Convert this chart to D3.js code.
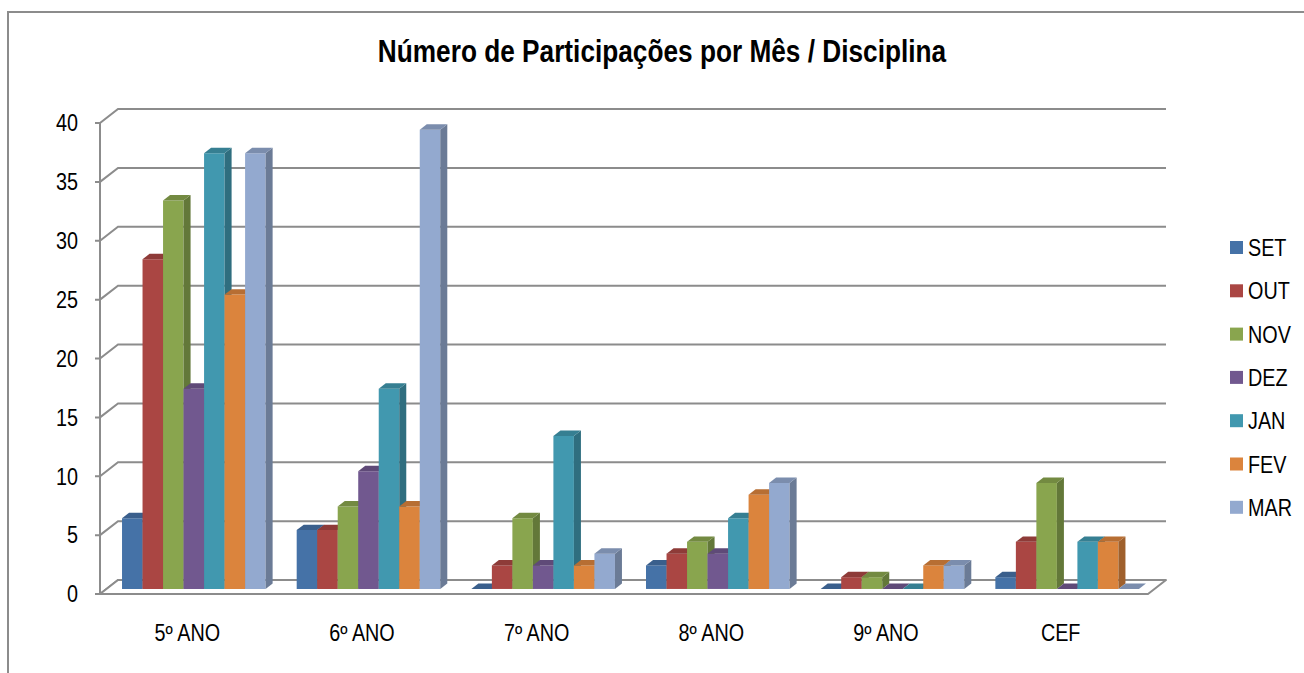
<!DOCTYPE html>
<html>
<head>
<meta charset="utf-8">
<script src="https://cdn.jsdelivr.net/npm/d3@7"></script>
<style>
  body { margin: 0; background: #fff; }
  svg text { font-family: 'Liberation Sans', Arial, sans-serif; fill: #000; }
</style>
</head>
<body>
<div id="chart"></div>
<script>
// categorias (eixo x) e meses (series)
const categories = ['5º ANO', '6º ANO', '7º ANO', '8º ANO', '9º ANO', 'CEF']
const months = ['SET', 'OUT', 'NOV', 'DEZ', 'JAN', 'FEV', 'MAR']

const SET = [6, 5, 0, 2, 0, 1]
const OUT = [28, 5, 2, 3, 1, 4]
const NOV = [33, 7, 6, 4, 1, 9]
const DEZ = [17, 10, 2, 3, 0, 0]
const JAN = [37, 17, 13, 6, 0, 4]
const FEV = [25, 7, 2, 8, 2, 4]
const MAR = [37, 39, 3, 9, 2, 0]

const yTicks = [0, 5, 10, 15, 20, 25, 30, 35, 40]
const colors = ['#4572a7', '#aa4643', '#89a54e', '#71588f', '#4198af', '#db843d', '#93a9cf']

const title = 'Número de Participações por Mês / Disciplina'

const series = [SET, OUT, NOV, DEZ, JAN, FEV, MAR]

const width = 1304
const height = 673
const lineColor = '#8c8c8c'
// sem Arial Narrow: Liberation Sans comprimida na horizontal
const narrow = 0.86

// plano frontal e profundidade da parede 3d
const plot = { left: 100, right: 1148, top: 123, bottom: 594 }
const depth = { dx: 18, dy: -14 }
const barDepth = [0.36, 0.75]

const svg = d3.select('#chart')
  .append('svg')
    .attr('width', width)
    .attr('height', height)

const label = (sel, px, py) => sel.attr('transform', `translate(${px},${py}) scale(${narrow},1)`)

svg.append('rect')
  .attr('x', 8)
  .attr('y', 12)
  .attr('width', width + 20)
  .attr('height', height + 20)
  .attr('fill', '#fff')
  .attr('stroke', lineColor)
  .attr('stroke-width', 2)

svg.append('text')
  .call(label, 662, 62)
  .attr('text-anchor', 'middle')
  .style('font-size', '30.5px')
  .style('font-weight', 'bold')
  .text(title)

const y = d3.scaleLinear()
  .domain([0, 40])
  .range([plot.bottom, plot.top])

const x = d3.scaleBand()
  .domain(categories)
  .range([plot.left, plot.right])
  .paddingInner(0.178)
  .paddingOuter(0.089)

const xInner = d3.scaleBand()
  .domain(months)
  .range([0, x.bandwidth()])

const shift = (px, py, f) => [px + f * depth.dx, py + f * depth.dy]
const poly = pts => 'M' + pts.map(p => p.join(',')).join('L') + 'Z'

// parede de fundo e grade
const grid = svg.append('g')
  .attr('fill', 'none')
  .attr('stroke', lineColor)
  .attr('stroke-width', 2)

grid.selectAll('path')
  .data(yTicks)
  .join('path')
    .attr('d', d => {
      const a = shift(plot.left, y(d), 1)
      return `M${plot.left - 5},${y(d)}L${plot.left},${y(d)}L${a[0]},${a[1]}L${plot.right + depth.dx},${a[1]}`
    })

grid.append('line')
  .attr('x1', plot.left)
  .attr('x2', plot.left)
  .attr('y1', y(40))
  .attr('y2', y(0))

// piso
svg.append('path')
  .attr('d', poly([
    [plot.left, y(0)],
    [plot.right, y(0)],
    shift(plot.right, y(0), 1),
    shift(plot.left, y(0), 1)
  ]))
  .attr('fill', '#fff')
  .attr('stroke', lineColor)
  .attr('stroke-width', 2)
  .attr('stroke-linejoin', 'round')

svg.append('line')
  .attr('x1', plot.left - 5)
  .attr('x2', plot.left)
  .attr('y1', y(0))
  .attr('y2', y(0))
  .attr('stroke', lineColor)
  .attr('stroke-width', 2)

svg.append('g')
  .selectAll('text')
  .data(yTicks)
  .join('text')
    .each(function (d) { label(d3.select(this), 78, y(d)) })
    .attr('dy', '0.36em')
    .attr('text-anchor', 'end')
    .style('font-size', '23px')
    .text(d => d)

// barras
const bars = []
categories.forEach((c, ci) => {
  months.forEach((m, mi) => {
    bars.push({ cat: c, month: m, color: colors[mi], value: series[mi][ci] })
  })
})

const [f0, f1] = barDepth
const barG = svg.append('g')
  .selectAll('g')
  .data(bars)
  .join('g')

barG.each(function (d) {
  const g = d3.select(this)
  const xl = x(d.cat) + xInner(d.month)
  const xr = xl + xInner.bandwidth()
  const yt = y(d.value)
  const yb = y(0)
  const base = d3.color(d.color)

  g.append('path')
    .attr('d', poly([shift(xl, yb, f0), shift(xr, yb, f0), shift(xr, yt, f0), shift(xl, yt, f0)]))
    .attr('fill', base)

  g.append('path')
    .attr('d', poly([shift(xr, yb, f0), shift(xr, yb, f1), shift(xr, yt, f1), shift(xr, yt, f0)]))
    .attr('fill', base.darker(0.9))

  g.append('path')
    .attr('d', poly([shift(xl, yt, f0), shift(xr, yt, f0), shift(xr, yt, f1), shift(xl, yt, f1)]))
    .attr('fill', base.darker(0.5))
})

svg.append('g')
  .selectAll('text')
  .data(categories)
  .join('text')
    .each(function (d) { label(d3.select(this), x(d) + x.bandwidth() / 2, 641) })
    .attr('text-anchor', 'middle')
    .style('font-size', '23px')
    .text(d => d)

// legenda
const legend = svg.append('g')
  .selectAll('g')
  .data(months)
  .join('g')
    .attr('transform', (d, i) => `translate(1230, ${241 + i * 43.3})`)

legend.append('rect')
  .attr('width', 13)
  .attr('height', 13)
  .attr('fill', (d, i) => colors[i])

legend.append('text')
  .call(label, 18, 15)
  .style('font-size', '23px')
  .text(d => d)
</script>
</body>
</html>
